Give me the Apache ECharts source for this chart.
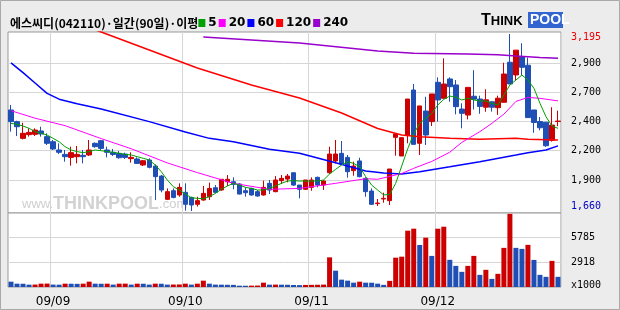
<!DOCTYPE html>
<html><head><meta charset="utf-8">
<script src="https://cdn.jsdelivr.net/npm/echarts@6/dist/echarts.min.js"></script>
<style>html,body{margin:0;padding:0;background:#ececec;}#c{width:620px;height:310px;}</style>
</head><body><div id="c"></div>
<script>
// ---- data (KRW, daily, 92 trading days) ----
const opens = [2536,2435,2290,2322,2325,2354,2305,2261,2189,2151,
 2125,2131,2143,2146,2247,2270,2189,2169,2160,2154,
 2114,2111,2059,2102,2050,1963,1761,1836,1799,1822,
 1778,1718,1755,1784,1862,1842,1914,1914,1894,1836,
 1856,1828,1799,1900,1828,1923,1937,1992,1885,1848,
 1865,1952,1885,1992,2094,2160,2125,2010,2094,1943,
 1833,1724,1764,1750,2299,2137,2319,2709,2247,2527,
 2435,2776,2637,2805,2753,2544,2492,2655,2631,2560,
 2607,2556,2603,2950,2840,2997,2924,2536,2436,2430,
 2273,2436];
const closes = [2435,2391,2334,2342,2362,2328,2247,2198,2169,2131,
 2166,2151,2131,2189,2218,2203,2169,2151,2122,2125,
 2125,2073,2096,2039,1958,1842,1828,1778,1865,1718,
 1712,1750,1813,1856,1822,1935,1935,1891,1807,1819,
 1799,1790,1865,1842,1929,1943,1963,1885,1848,1929,
 1929,1885,1920,2154,2154,2068,2001,2050,1958,1828,
 1718,1729,1770,2024,2328,2296,2631,2238,2571,2319,
 2675,2623,2761,2738,2565,2507,2732,2630,2567,2624,
 2560,2638,2848,2762,3055,2906,2470,2428,2382,2226,
 2405,2440];
const lows = [2348,2310,2281,2305,2310,2305,2232,2189,2154,2088,
 2053,2073,2073,2137,2209,2189,2125,2137,2114,2111,
 2079,2068,2050,2030,1755,1822,1755,1770,1784,1663,
 1660,1698,1750,1755,1813,1836,1877,1848,1804,1784,
 1793,1784,1793,1807,1822,1894,1909,1877,1770,1842,
 1836,1865,1842,1981,2073,2068,1949,1966,1952,1784,
 1712,1703,1732,1712,2140,2137,2247,2238,2146,2232,
 2397,2435,2637,2608,2498,2377,2455,2540,2503,2521,
 2522,2494,2600,2760,2791,2840,2470,2338,2360,2216,
 2262,2395];
const highs = [2579,2443,2426,2377,2377,2391,2334,2276,2247,2189,
 2218,2224,2189,2276,2255,2276,2218,2198,2180,2166,
 2169,2125,2102,2117,2065,1972,1856,1856,1900,1900,
 1784,1784,1877,1906,1885,1935,1972,1952,1900,1865,
 1862,1842,1923,1929,1963,1972,1981,1992,1885,1929,
 1952,1958,1929,2218,2276,2267,2146,2088,2122,1952,
 1856,1764,1819,2024,2328,2296,2631,2761,2571,2651,
 2675,2819,2984,2819,2796,2594,2732,2881,2660,2716,
 2610,2660,2946,3195,3055,3115,2990,2536,2475,2432,
 2560,2530];
// volume in thousand shares
const volumes = [624,390,380,273,285,390,400,280,270,390,
 380,370,390,624,390,380,390,280,390,395,
 280,390,380,280,390,380,280,290,300,390,
 280,390,741,390,280,270,260,250,156,150,
 160,170,507,273,280,270,260,234,220,240,
 250,260,280,3470,1911,858,741,507,624,507,
 500,390,250,720,3432,3549,6591,6825,4914,5772,
 3640,6825,7059,3180,2470,1775,2470,3640,1420,2010,
 950,1540,4580,8560,4580,4460,4930,3170,1420,1190,
 3060,1190];
const prevVolume = 700;
// moving averages
const ma5 = [2420,2412,2397,2377,2348,2334,2319,2290,2261,2218,
 2189,2175,2166,2175,2189,2183,2175,2169,2160,2151,
 2146,2131,2117,2102,2059,2001,1929,1871,1842,1807,
 1775,1770,1767,1784,1813,1848,1877,1900,1885,1865,
 1856,1842,1842,1856,1877,1900,1920,1923,1920,1920,
 1920,1920,1929,1981,2021,2059,2088,2073,2044,1958,
 1885,1842,1799,1804,1900,2050,2200,2330,2420,2464,
 2507,2579,2628,2657,2646,2623,2637,2623,2614,2614,
 2594,2579,2666,2753,2796,2839,2796,2724,2594,2478,
 2397,2377];
const ma20 = [[0,2530],[4,2465],[9,2400],[15,2288],[20,2200],[26,2077],[31,1993],[37,1900],[43,1848],[48,1856],[54,1900],[59,1940],[61,1935],[65,1985],[67,2030],[70,2090],[73,2170],[75,2255],[78,2348],[80,2420],[82,2500],[84,2610],[86,2645],[88,2637],[91,2615]];
const ma60 = [[0,2945],[2,2860],[4,2770],[6,2680],[8,2630],[11,2590],[15,2545],[23,2435],[29,2345],[33,2290],[37,2261],[43,2195],[48,2160],[54,2079],[59,2007],[62,1990],[65,1981],[68,2001],[73,2044],[78,2088],[84,2146],[86,2166],[89,2189],[91,2225]];
const ma120 = [[12,3270],[15,3212],[23,3056],[31,2900],[40,2753],[48,2640],[55,2510],[61,2375],[65,2319],[68,2304],[73,2290],[78,2282],[84,2290],[86,2282],[91,2276]];
const ma240 = [[32,3169],[48,3117],[61,3048],[65,3035],[67,3028],[76,3022],[81,3016],[84,3004],[88,2992],[91,2985]];
// axis ticks / labels
const monthStartIdx = [7,29,50,71];
const monthLabels = ['09/09','09/10','09/11','09/12'];
const priceGridVals = [2943,2692,2441,2189,1929];
const priceGridLabels = ['2,900','2,700','2,400','2,200','1,900'];
const priceHigh = 3195, priceHighLabel = '3,195';
const priceLow = 1660, priceLowLabel = '1,660';
const volGridVals = [2918,5785];
const volGridLabels = ['2918','5785'];
const volUnitLabel = 'x1000';

const RED = '#cc0000', BLUE = '#1f4fb4';
const cats = closes.map((_, i) => 'D' + (i + 1));
const chart = echarts.init(document.getElementById('c'), null, {width:620, height:310});
const monoFont = 'DejaVu Sans Mono';
const xCommon = {
  type:'category', data:cats, boundaryGap:true,
  axisLine:{show:false}, axisTick:{show:false},
  splitLine:{show:true, interval:(i)=>monthStartIdx.includes(i), lineStyle:{color:'#d6d6d6', width:1}}
};
const option = {
  animation:false,
  backgroundColor:'#ececec',
  title:{
    left:5, top:12,
    text:'{t|에스씨디(042110)·일간(90일)·이평}{g| }{n|5}{m| }{n|20}{b| }{n|60}{r| }{n|120}{p| }{n|240}',
    textStyle:{ rich:{
      t:{fontFamily:'Noto Sans CJK KR', fontSize:12, color:'#000'},
      n:{fontFamily:'DejaVu Sans', fontSize:12, color:'#000', padding:[0,2,0,3]},
      g:{backgroundColor:'#00a000', width:7, height:8},
      m:{backgroundColor:'#ff00ff', width:7, height:8},
      b:{backgroundColor:'#0000ff', width:7, height:8},
      r:{backgroundColor:'#ff0000', width:7, height:8},
      p:{backgroundColor:'#9900cc', width:7, height:8}
    }}
  },
  grid:[
    {left:8, top:32, width:553, height:181, show:true, backgroundColor:'#fff', borderColor:'#999', borderWidth:1},
    {left:8, top:213, width:553, height:74, show:true, backgroundColor:'#fff', borderColor:'#999', borderWidth:1}
  ],
  xAxis:[
    Object.assign({gridIndex:0, axisLabel:{show:false}}, xCommon),
    Object.assign({gridIndex:1, axisLabel:{show:true, interval:(i)=>monthStartIdx.includes(i),
      formatter:(v,i)=>monthLabels[monthStartIdx.indexOf(i)] || '', fontFamily:'DejaVu Sans', fontSize:12, color:'#000', margin:9}}, xCommon)
  ],
  yAxis:[
    {gridIndex:0, type:'value', position:'right', min:1642.7, max:3212.3, scale:true,
     axisLine:{show:false}, axisTick:{show:false, customValues:priceGridVals},
     splitLine:{show:true, lineStyle:{color:'#d6d6d6'}},
     axisLabel:{customValues:[priceHigh].concat(priceGridVals, [priceLow]), margin:10, fontFamily:monoFont, fontSize:10, color:'#000',
       formatter:(v)=>{
         if (v === priceHigh) return '{hi|' + priceHighLabel + '}';
         if (v === priceLow) return '{lo|' + priceLowLabel + '}';
         const k = priceGridVals.indexOf(v); return k >= 0 ? priceGridLabels[k] : '';
       },
       rich:{hi:{color:'#ee0000', fontFamily:monoFont, fontSize:10, padding:[6,0,0,0]},
             lo:{color:'#0000cc', fontFamily:monoFont, fontSize:10, padding:[0,0,10,0]}}}},
    {gridIndex:1, type:'value', position:'right', min:0, max:8660,
     axisLine:{show:false}, axisTick:{show:false, customValues:volGridVals},
     splitLine:{show:true, lineStyle:{color:'#d6d6d6'}},
     axisLabel:{customValues:[0].concat(volGridVals), margin:10, fontFamily:monoFont, fontSize:10, color:'#000',
       formatter:(v)=>{
         if (v === 0) return '{u|' + volUnitLabel + '}';
         const k = volGridVals.indexOf(v); return k >= 0 ? volGridLabels[k] : '';
       },
       rich:{u:{fontFamily:monoFont, fontSize:10, color:'#000', padding:[0,0,4,0]}}}}
  ],
  graphic:[
    {type:'rect', z:100, silent:true, shape:{x:0.5, y:0.5, width:619, height:309}, style:{fill:'none', stroke:'#a9a9a9', lineWidth:1}},
    {type:'text', z:1, left:22, top:195, silent:true, style:{
      text:'{a|www.}{b|THINKPOOL}{a|.com}',
      rich:{a:{fontFamily:'Liberation Sans', fontSize:13, fill:'#cfcfcf'}, b:{fontFamily:'Liberation Sans', fontWeight:'bold', fontSize:18, fill:'#d2d2d2'}}}},
    {type:'text', z:50, left:481, top:13, silent:true, style:{
      text:'{T|T}{h|HINK}', rich:{T:{fontFamily:'Liberation Sans', fontWeight:'bold', fontSize:16, fill:'#000'}, h:{fontFamily:'Liberation Sans', fontWeight:'bold', fontSize:13, fill:'#000'}}}},
    {type:'rect', z:50, silent:true, shape:{x:528, y:12, width:35, height:16}, style:{fill:'#3264d2'}},
    {type:'text', z:51, left:530, top:13, silent:true, style:{text:'POOL', fontFamily:'Liberation Sans', fontWeight:'bold', fontSize:14, fill:'#fff'}}
  ],
  series:[
    {type:'candlestick', xAxisIndex:0, yAxisIndex:0, barWidth:5, z:3,
     data:opens.map((o,i)=>[o, closes[i], lows[i], highs[i]]),
     itemStyle:{color:RED, color0:BLUE, borderColor:RED, borderColor0:BLUE, borderWidth:1}},
    {type:'line', xAxisIndex:0, yAxisIndex:0, data:ma240, symbol:'none', z:4, lineStyle:{color:'#9900cc', width:1.5}},
    {type:'line', xAxisIndex:0, yAxisIndex:0, data:ma120, symbol:'none', z:4, lineStyle:{color:'#ff0000', width:1.5}},
    {type:'line', xAxisIndex:0, yAxisIndex:0, data:ma60, symbol:'none', z:4, lineStyle:{color:'#0000ff', width:1.5}},
    {type:'line', xAxisIndex:0, yAxisIndex:0, data:ma20, symbol:'none', z:4, lineStyle:{color:'#ff00ff', width:1}},
    {type:'line', xAxisIndex:0, yAxisIndex:0, data:ma5, symbol:'none', z:4, lineStyle:{color:'#00a000', width:1}},
    {type:'bar', xAxisIndex:1, yAxisIndex:1, barWidth:5,
     data:volumes.map((v,i)=>({value:v, itemStyle:{color: v >= (i ? volumes[i-1] : prevVolume) ? RED : BLUE}}))}
  ]
};
chart.setOption(option);
</script></body></html>
